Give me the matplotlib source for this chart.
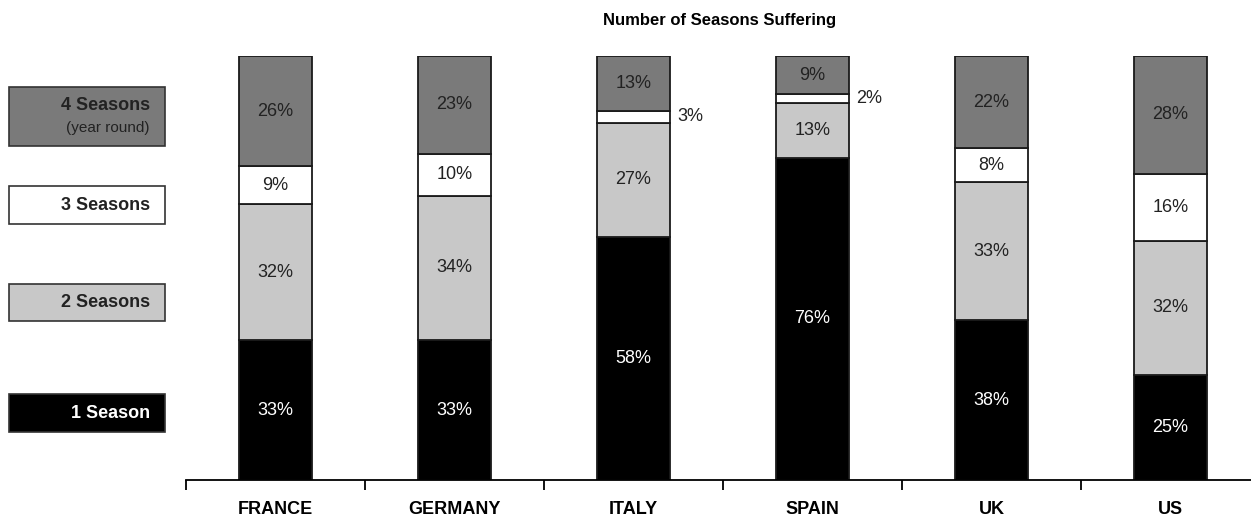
import numpy as np
import matplotlib
matplotlib.use("Agg")
import matplotlib.pyplot as plt
from matplotlib.patches import Rectangle

plt.rcParams['font.family'] = ['Liberation Sans', 'DejaVu Sans']

countries = ["FRANCE", "GERMANY", "ITALY", "SPAIN", "UK", "US"]
one_season = [33, 33, 58, 76, 38, 25]
two_seasons = [32, 34, 27, 13, 33, 32]
three_seasons = [9, 10, 3, 2, 8, 16]
four_seasons = [26, 23, 13, 9, 22, 28]

series = [one_season, two_seasons, three_seasons, four_seasons]
colors = ["#000000", "#c8c8c8", "#ffffff", "#7a7a7a"]
text_colors = ["white", "#222222", "#222222", "#222222"]
legend_names = ["1 Season", "2 Seasons", "3 Seasons", "4 Seasons"]

W, H = 1251, 518
fig = plt.figure(figsize=(W / 100, H / 100), dpi=100)
# axes runs a little past the right edge, like the original
ax = fig.add_axes([186 / W, 38 / H, 1074 / W, 424 / H])

x = np.arange(len(countries))
data = np.array(series, dtype=float)
totals = data.sum(axis=0)
shares = data / totals * 100
bottom = np.zeros(len(countries))
for i, vals in enumerate(shares):
    ax.bar(x, vals, 0.41, bottom=bottom, color=colors[i],
           edgecolor="#1a1a1a", linewidth=1.3)
    for j, v in enumerate(vals):
        label = f"{int(data[i, j])}%"
        if data[i, j] < 5:
            ax.text(x[j] + 0.245, bottom[j] + v / 2, label, ha="left",
                    va="center", fontsize=13, color="#222222")
        else:
            ax.text(x[j], bottom[j] + v / 2, label, ha="center",
                    va="center", fontsize=13, color=text_colors[i])
    bottom += vals

ax.set_xlim(-0.5, 5.5)
ax.set_ylim(0, 100)
for s in ["top", "right", "left"]:
    ax.spines[s].set_visible(False)
ax.spines["bottom"].set_linewidth(1.3)
ax.set_yticks([])
ax.set_xticks(x)
ax.set_xticklabels(countries, fontsize=13, fontweight="bold")
ax.tick_params(axis="x", which="major", length=0, pad=15)
ax.set_xticks(np.arange(-0.5, 5.0, 1.0), minor=True)
ax.tick_params(axis="x", which="minor", length=7, width=1.3, direction="out")

fig.text(720 / W, 1 - 20 / H, "Number of Seasons Suffering", ha="center",
         va="center", fontsize=12, fontweight="bold")

# legend boxes on the left (pixel positions from top)
boxes = [(394, 432), (284, 321), (186, 224), (87, 146)]
for i, (top, bot) in enumerate(boxes):
    fig.add_artist(Rectangle((9 / W, 1 - bot / H), 156 / W, (bot - top) / H,
                             transform=fig.transFigure, facecolor=colors[i],
                             edgecolor="#333333", linewidth=1.2))
    tc = "white" if i == 0 else "#222222"
    if i == 3:
        fig.text(150 / W, 1 - 106 / H, legend_names[i], ha="right",
                 va="center", fontsize=13, fontweight="bold", color=tc)
        fig.text(150 / W, 1 - 128 / H, "(year round)", ha="right",
                 va="center", fontsize=11, color=tc)
    else:
        fig.text(150 / W, 1 - (top + bot) / 2 / H, legend_names[i],
                 ha="right", va="center", fontsize=13, fontweight="bold",
                 color=tc)

fig.savefig("out.png", dpi=100)
